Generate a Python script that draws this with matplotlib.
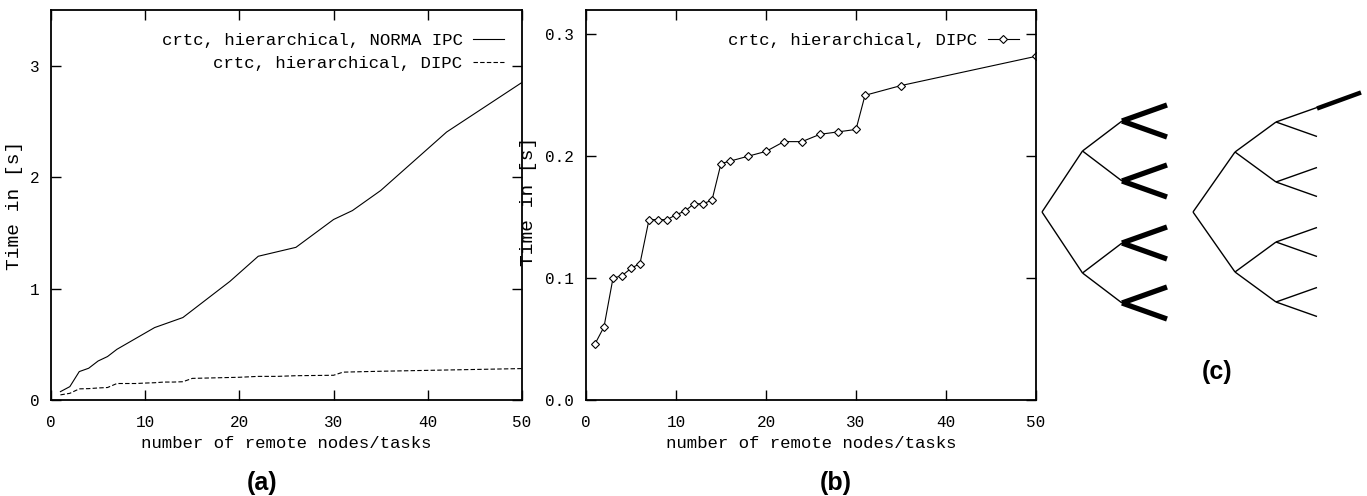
import numpy as np
import matplotlib
matplotlib.use('Agg')
from matplotlib import pyplot as plt

# data
nodes_norma = [1, 2, 3, 4, 5, 6, 7, 11, 14, 19, 22, 26, 30, 32, 35, 42, 50]
time_norma = [0.075, 0.12, 0.255, 0.285, 0.35, 0.39, 0.455, 0.65, 0.74, 1.065,
              1.29, 1.37, 1.62, 1.70, 1.88, 2.405, 2.85]

nodes_dipc = [1, 2, 3, 4, 5, 6, 7, 8, 9, 10, 11, 12, 13, 14, 15, 16, 18, 20,
              22, 24, 26, 28, 30, 31, 35, 50]
time_dipc = [0.046, 0.060, 0.100, 0.102, 0.108, 0.112, 0.148, 0.148, 0.148,
             0.152, 0.155, 0.161, 0.161, 0.164, 0.194, 0.196, 0.200, 0.204,
             0.212, 0.212, 0.218, 0.220, 0.222, 0.250, 0.258, 0.282]

xticks = [0, 10, 20, 30, 40, 50]
yticks_a = [0, 1, 2, 3]
yticks_b = [0.0, 0.1, 0.2, 0.3]

W, H = 1367, 496
mono = 'Liberation Mono'

plt.rcParams['font.family'] = mono
plt.rcParams['font.size'] = 12.5

fig = plt.figure(figsize=(W / 100, H / 100), dpi=100)

def px_axes(x0, y0, x1, y1):
    return fig.add_axes([x0 / W, 1 - y1 / H, (x1 - x0) / W, (y1 - y0) / H])

def style(ax, yt, fmt):
    ax.set_xlim(0, 50)
    ax.set_xticks(xticks)
    ax.set_yticks(yt)
    ax.set_yticklabels([fmt.format(v) for v in yt])
    ax.tick_params(direction='in', length=7, width=1, top=True, right=True,
                   labelsize=11.5)
    ax.tick_params(axis='x', pad=10.5)
    ax.tick_params(axis='y', pad=8.5)
    for s in ax.spines.values():
        s.set_linewidth(1.3)
    ax.set_xlabel('number of remote nodes/tasks', labelpad=4.5)
    ax.set_ylabel('Time in [s]', fontsize=14)

# (a)
ax1 = px_axes(51, 10, 522, 400)
ax1.plot(nodes_norma, time_norma, 'k-', lw=0.8,
         label='crtc, hierarchical, NORMA IPC')
ax1.plot(nodes_dipc, time_dipc, 'k', ls=(0, (4, 2)), lw=0.8,
         label='crtc, hierarchical, DIPC')
ax1.set_ylim(0, 3.5)
style(ax1, yticks_a, '{:g}')
ax1.yaxis.set_label_coords(-0.059, 0.5)
ax1.legend(loc='upper right', bbox_to_anchor=(0.962, 0.941), frameon=False,
           markerfirst=False, borderaxespad=0, borderpad=0, labelspacing=0.43,
           handlelength=1.8, handletextpad=0.6, fontsize=12.5)

# (b)
ax2 = px_axes(586, 10, 1036, 400)
ax2.plot(nodes_dipc, time_dipc, 'k-', lw=0.8, marker='D', ms=4.5, mfc='white',
         mec='black', mew=0.8, label='crtc, hierarchical, DIPC')
ax2.set_ylim(0, 0.32)
style(ax2, yticks_b, '{:.1f}')
ax2.yaxis.set_label_coords(-0.109, 0.51)
ax2.legend(loc='upper right', bbox_to_anchor=(0.962, 0.941), frameon=False,
           markerfirst=False, borderaxespad=0, borderpad=0,
           handlelength=1.8, handletextpad=0.6, fontsize=12.5)

# (c) tree sketches, drawn in pixel coords
ax3 = px_axes(1038, 0, W, H)
ax3.set_xlim(1038, W)
ax3.set_ylim(H, 0)
ax3.axis('off')

def tree(x, y, dxs, dys, lws, level=0):
    if level == len(dxs):
        return
    for sgn in (-1, 1):
        xn, yn = x + dxs[level], y + sgn * dys[level]
        ax3.plot([x, xn], [y, yn], 'k-', lw=lws[level], solid_capstyle='butt')
        tree(xn, yn, dxs, dys, lws, level + 1)

tree(1042, 212, [40.5, 39.5, 45], [61, 30, 16], [1.0, 1.0, 3.8])
tree(1193, 212, [42, 41, 41], [60, 30, 14.5], [1.0, 1.0, 1.0])
# one leaf of the right tree carries the heavy link
ax3.plot([1317, 1361], [108.5, 92.5], 'k-', lw=3.2, solid_capstyle='butt')

cap = dict(family='Liberation Sans', weight='bold', fontsize=18,
           ha='center', va='center')
fig.text(262 / W, 1 - 483 / H, '(a)', **cap)
fig.text(836 / W, 1 - 483 / H, '(b)', **cap)
fig.text(1217 / W, 1 - 372 / H, '(c)', **cap)

fig.savefig('out.png', dpi=100)
